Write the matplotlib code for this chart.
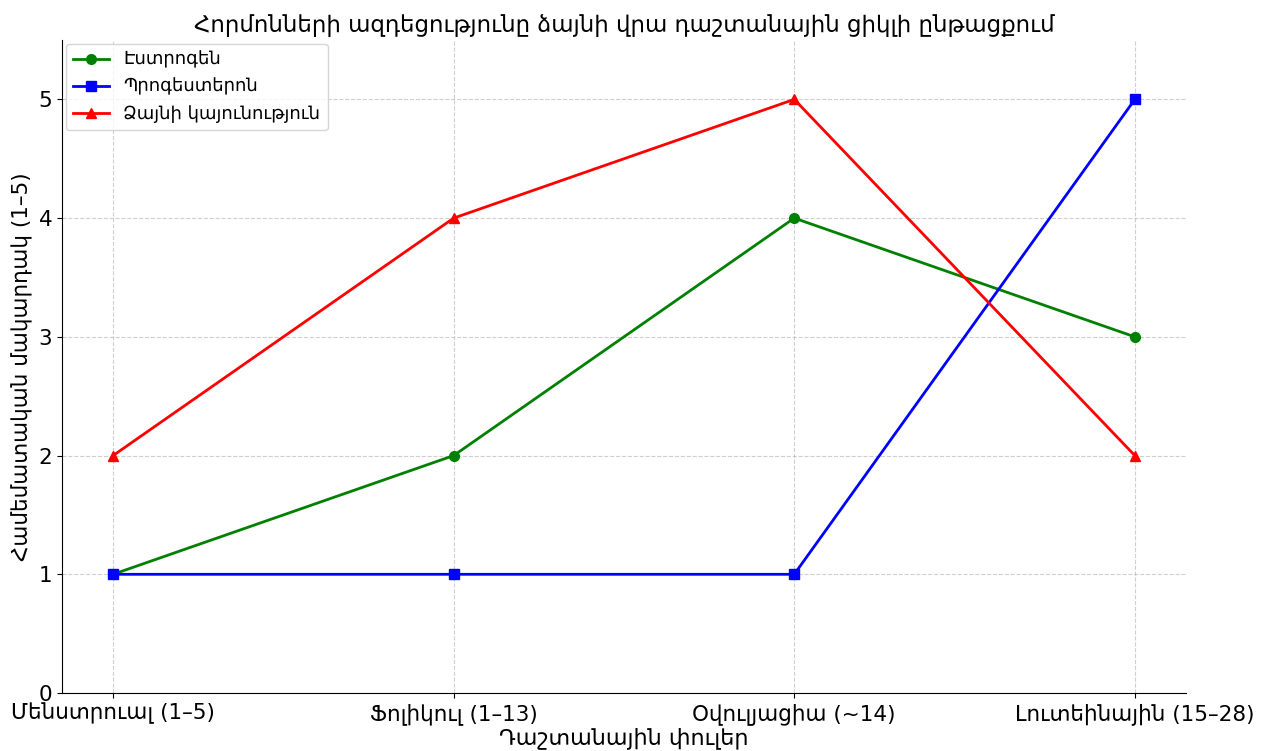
import matplotlib
matplotlib.use('Agg')
import matplotlib.pyplot as plt

phases = ['Մենստրուալ (1–5)', 'Ֆոլիկուլ (1–13)', 'Օվուլյացիա (~14)', 'Լուտեինային (15–28)']
estrogen = [1, 2, 4, 3]
progesterone = [1, 1, 1, 5]
voice_stability = [2, 4, 5, 2]

plt.rcParams['font.family'] = ['DejaVu Sans']

fig = plt.figure(figsize=(12.7, 7.51), dpi=100)
ax = fig.add_axes([0.0488, 0.0772, 0.8850, 0.8695])

x = range(len(phases))
ax.plot(x, estrogen, marker='o', color='green', linewidth=2, markersize=7, label='Էստրոգեն')
ax.plot(x, progesterone, marker='s', color='blue', linewidth=2, markersize=7, label='Պրոգեստերոն')
ax.plot(x, voice_stability, marker='^', color='red', linewidth=2, markersize=7, label='Ձայնի կայունություն')

ax.set_xticks(list(x))
ax.set_xticklabels(phases, fontsize=15.5)
ax.tick_params(axis='y', labelsize=15.5)
ax.set_ylim(0, 5.5)
ax.set_yticks([0, 1, 2, 3, 4, 5])
ax.set_title('Հորմոնների ազդեցությունը ձայնի վրա դաշտանային ցիկլի ընթացքում', fontsize=16.5)
ax.set_xlabel('Դաշտանային փուլեր', fontsize=16, labelpad=2)
ax.set_ylabel('Համեմատական մակարդակ (1–5)', fontsize=15.5)
ax.spines['top'].set_visible(False)
ax.spines['right'].set_visible(False)
ax.grid(True, linestyle='--', alpha=0.6)
ax.legend(loc='upper left', bbox_to_anchor=(0, 1), borderaxespad=0.2, fontsize=13)

fig.savefig('out.png', dpi=100)
